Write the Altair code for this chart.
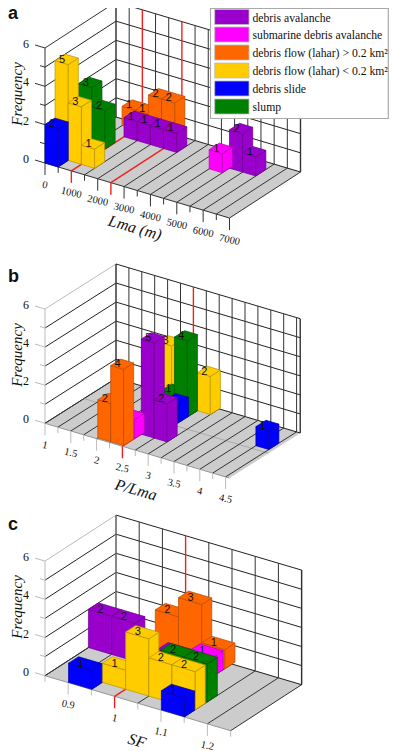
import altair as alt
import pandas as pd

# ---- series styling
SERIES = ["debris avalanche", "submarine debris avalanche", "debris flow (lahar) > 0.2 km²",
          "debris flow (lahar) < 0.2 km²", "debris slide", "slump"]
FILLS = ["#9900CC", "#FF00FF", "#FF6600", "#FFCC00", "#0000FF", "#008000"]
EDGES = ["#6A008E", "#B000B0", "#B84A00", "#B89300", "#0000A8", "#005400"]
P, M, O, Y, B, G = range(6)

# ---- data: series, lower bin edge, frequency
A_SERIES = [B, Y, Y, Y, G, G, M, P, P, P, P, P, P, O, O, O, O]
A_BIN = [0, 0, 500, 1000, 0, 500, 4500, 1000, 1500, 2000, 2500, 5000, 5500, 500, 1000, 1500, 2000]
A_FREQ = [2, 5, 3, 1, 3, 2, 1, 1, 1, 1, 1, 2, 1, 1, 1, 2, 2]
A_ROW = {B: 0.0, Y: 0.85, G: 2.85, M: 3.85, P: 4.45, O: 5.4}

B_SERIES = [O, O, M, P, P, B, B, G, G, Y, Y]
B_BIN = [2.0, 2.25, 2.25, 2.5, 2.75, 2.5, 4.25, 2.25, 2.5, 2.0, 2.75]
B_FREQ = [2, 4, 1, 5, 2, 1, 1, 1, 4, 3, 2]
B_ROW = {O: 0.1, M: 1.0, P: 1.6, B: 3.65, G: 4.4, Y: 5.25}
B_UNLABELLED = [(M, 2.25), (B, 2.5)]

C_SERIES = [B, B, Y, Y, Y, Y, G, G, P, P, P, M, O, O, O]
C_BIN = [0.9, 1.1, 0.95, 1.0, 1.05, 1.1, 1.05, 1.1, 0.85, 0.9, 1.0, 1.05, 0.95, 1.0, 1.05]
C_FREQ = [1, 1, 1, 3, 2, 2, 2, 2, 2, 2, 1, 1, 2, 3, 1]
C_ROW = {B: 0.03, Y: 0.93, G: 1.95, P: 3.67, M: 4.4, O: 5.4}
C_UNLABELLED = [(P, 1.0)]

# ---- panels: oblique projection parameters
PANELS = [
    dict(letter="a", lx=8, ly=19, origin=(45, 163), xr=(0, 7000), xend=7000, xd=(184.5, 55), dv=(71, -46), fu=19.17,
         step=500, majors=[0, 1000, 2000, 3000, 4000, 5000, 6000, 7000], labs=["0", "1000", "2000", "3000", "4000", "5000", "6000", "7000"],
         red=[1000, 2500], xtitle="Lma (m)", xt=(135, 228), yt=(17, 94), soft="#333333",
         series=A_SERIES, bins=A_BIN, freq=A_FREQ, row=A_ROW, faint=[], nolabel=[]),
    dict(letter="b", lx=8, ly=282, origin=(45, 423.3), xr=(1, 4.5), xend=4.57, xd=(180.6, 53.6), dv=(71, -45), fu=19.05,
         step=0.25, majors=[1, 1.5, 2, 2.5, 3, 3.5, 4, 4.5], labs=["1", "1.5", "2", "2.5", "3", "3.5", "4", "4.5"],
         red=[2.5], xtitle="P/Lma", xt=(136, 490), yt=(17, 355), soft="#BBBBBB",
         series=B_SERIES, bins=B_BIN, freq=B_FREQ, row=B_ROW, faint=[0.55], nolabel=B_UNLABELLED),
    dict(letter="c", lx=8, ly=530, origin=(45, 675.7), xr=(0.85, 1.25), xend=1.25, xd=(185.6, 55), dv=(71, -46), fu=19.1,
         step=0.05, majors=[0.9, 1.0, 1.1, 1.2], labs=["0.9", "1", "1.1", "1.2"],
         red=[1.0], xtitle="SF", xt=(137, 741), yt=(17, 607), soft="#BBBBBB",
         series=C_SERIES, bins=C_BIN, freq=C_FREQ, row=C_ROW, faint=[], nolabel=C_UNLABELLED),
]
BAR_DEPTH = 0.85
SERIF = "Liberation Serif"
SANS = "Liberation Sans"

XS = alt.Scale(domain=[8, 389], range=[0, 381])
YS = alt.Scale(domain=[8, 751], range=[0, 743])


def proj(p, x, d, f=0):
    """x in data units, d in depth rows (0-6), f in frequency."""
    u = (x - p["xr"][0]) / (p["xr"][1] - p["xr"][0])
    t = d / 6
    return (p["origin"][0] + u * p["xd"][0] + t * p["dv"][0],
            p["origin"][1] + u * p["xd"][1] + t * p["dv"][1] - f * p["fu"])


rules, floors = [], []


def rule(a, b, c, w=1.0):
    rules.append(dict(x=a[0], y=a[1], x2=b[0], y2=b[1], c=c, w=w))


text_rows = []


def text(x, y, s, size, font=SERIF, angle=0, align="center", style="normal", weight="normal", base="middle"):
    text_rows.append(dict(x=x, y=y, s=s, size=size, font=font, angle=angle, align=align, style=style, weight=weight, base=base))


for p in PANELS:
    x0, xe = p["xr"][0], p["xend"]
    for i, (xx, dd) in enumerate([(x0, 0), (xe, 0), (xe, 6), (x0, 6), (x0, 0)]):
        px, py = proj(p, xx, dd)
        floors.append(dict(x=px, y=py, i=i, g=p["letter"]))
    n = int(round((p["xr"][1] - x0) / p["step"]))
    ticks = [x0 + k * p["step"] for k in range(n + 1)]
    is_major = lambda v: any(abs(v - m) < 1e-6 for m in p["majors"])
    is_red = lambda v: any(abs(v - m) < 1e-6 for m in p["red"])
    for f in range(7):
        side = p["soft"] if f == 6 else "#222222"
        rule(proj(p, x0, 0, f), proj(p, x0, 6, f), side, 1.0)
        rule(proj(p, x0, 6, f), proj(p, xe, 6, f), "#222222", 1.0)
        a = proj(p, x0, 0, f)
        ln = 10 if f % 2 == 0 else 5
        rule((a[0] - ln, a[1] - ln * 0.3), a, p["soft"] if p["letter"] != "a" else "#333333", 1.0)
    rule(proj(p, x0, 0, 0), proj(p, x0, 0, 6), p["soft"], 1.0)
    rule(proj(p, x0, 6, 0), proj(p, x0, 6, 6), "#BBBBBB" if p["letter"] == "c" else "#444444", 1.0)
    rule(proj(p, xe, 6, 0), proj(p, xe, 6, 6), "#333333", 1.4)
    rule(proj(p, x0, 0, 0), proj(p, xe, 0, 0), "#999999" if p["letter"] != "a" else "#333333", 1.0)
    for t in p["faint"]:
        rule(proj(p, x0, t * 6), proj(p, xe, t * 6), "#AAAAAA", 1.0)
    for v in ticks:
        if is_red(v):
            continue
        rule(proj(p, v, 0), proj(p, v, 6), "#333333", 1.0)
        rule(proj(p, v, 6), proj(p, v, 6, 6), "#333333", 1.0)
        a = proj(p, v, 0)
        rule(a, (a[0], a[1] + (12 if is_major(v) else 6)), p["soft"] if p["letter"] != "a" else "#333333", 1.0)
    for v in ticks:
        if is_red(v):
            rule(proj(p, v, 0), proj(p, v, 6), "#F02020", 1.4)
            rule(proj(p, v, 6), proj(p, v, 6, 6), "#F02020", 1.4)
            a = proj(p, v, 0)
            rule(a, (a[0], a[1] + 12), "#F02020", 1.4)
    for v, s in zip(p["majors"], p["labs"]):
        a = proj(p, v, 0)
        text(a[0], a[1] + 22, s, 10.5, angle=12)
    for f in [0, 2, 4, 6]:
        a = proj(p, x0, 0, f)
        text(a[0] - 19, a[1] - 4, str(f), 12)
    text(p["yt"][0], p["yt"][1], "Frequency", 15, angle=270, style="italic")
    text(p["xt"][0], p["xt"][1], p["xtitle"], 16, angle=16, style="italic")
    text(p["lx"], p["ly"], p["letter"], 18, font=SANS, align="left", weight="bold", base="alphabetic")

enc_xy = dict(x=alt.X("x:Q", scale=XS, axis=None), y=alt.Y("y:Q", scale=YS, axis=None))

layers = [
    alt.Chart(pd.DataFrame(floors)).mark_line(fill="#CCCCCC", stroke="#CCCCCC", strokeWidth=0.5).encode(
        detail="g:N", order="i:Q", **enc_xy),
    alt.Chart(pd.DataFrame(rules)).mark_rule().encode(
        x2="x2:Q", y2="y2:Q",
        color=alt.Color("c:N", scale=None),
        strokeWidth=alt.StrokeWidth("w:Q", scale=None), **enc_xy),
]

# ---- bars, painted back to front and left to right
for p in PANELS:
    bars = sorted(zip(p["series"], p["bins"], p["freq"]), key=lambda b: (-p["row"][b[0]], b[1]))
    for s, lo, f in bars:
        hi = lo + p["step"]
        d = p["row"][s]
        e = d + BAR_DEPTH
        faces = [
            [(lo, d, 0), (hi, d, 0), (hi, d, f), (lo, d, f)],
            [(hi, d, 0), (hi, e, 0), (hi, e, f), (hi, d, f)],
            [(lo, d, f), (hi, d, f), (hi, e, f), (lo, e, f)],
        ]
        rows = []
        for k, face in enumerate(faces):
            for i, v in enumerate(face + face[:1]):
                px, py = proj(p, *v)
                rows.append(dict(x=px, y=py, i=i, face=k, fc=FILLS[s], ec=EDGES[s]))
        layers.append(alt.Chart(pd.DataFrame(rows)).mark_line(strokeWidth=0.7).encode(
            detail="face:N", order="i:Q",
            fill=alt.Fill("fc:N", scale=None),
            stroke=alt.Stroke("ec:N", scale=None), **enc_xy))
        if (s, lo) in p["nolabel"]:
            continue
        lx, ly = proj(p, lo + p["step"] / 2, d, f)
        layers.append(alt.Chart(pd.DataFrame([dict(x=lx + 0.5, y=ly - 3, s=str(f))])).mark_text(
            font=SANS, fontSize=11, color="#111111").encode(text="s:N", **enc_xy))

# ---- legend
box = pd.DataFrame([dict(x=210.5, x2=388.3, y=8.5, y2=118.5)])
layers.append(alt.Chart(box).mark_rect(fill="white", stroke="#AAAAAA", strokeWidth=1.2).encode(
    x2="x2:Q", y2="y2:Q", **enc_xy))
sw_top = [9.5, 27, 45, 63, 81, 99]
swatches = pd.DataFrame([dict(x=214.7, x2=249, y=t, y2=t + 15, c=c) for t, c in zip(sw_top, FILLS)])
layers.append(alt.Chart(swatches).mark_rect(stroke="#BBBBBB", strokeWidth=0.8).encode(
    x2="x2:Q", y2="y2:Q", fill=alt.Fill("c:N", scale=None), **enc_xy))
for t, s in zip(sw_top, SERIES):
    text(252.5, t + 8, s, 11.7, align="left")

# ---- all text that sits above the bars
for keys, g in pd.DataFrame(text_rows).groupby(["size", "font", "angle", "align", "style", "weight", "base"]):
    size, font, angle, align, style, weight, base = keys
    layers.append(alt.Chart(g[["x", "y", "s"]]).mark_text(
        fontSize=size, font=font, angle=angle, align=align, fontStyle=style, fontWeight=weight,
        baseline=base, color="#111111").encode(text="s:N", **enc_xy))

chart = alt.layer(*layers).properties(width=381, height=743, padding=0, autosize="none").configure_view(stroke=None)
chart.save("out.html", embed_options={"renderer": "svg", "actions": False})
